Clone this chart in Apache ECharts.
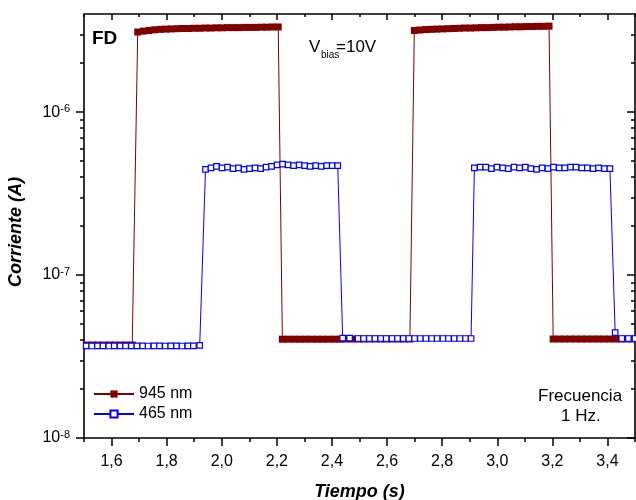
<!doctype html>
<html lang="es">
<head>
    <meta charset="utf-8">
    <title>Corriente vs Tiempo - FD</title>
    <script src="https://cdn.jsdelivr.net/npm/echarts@6.0.0/dist/echarts.min.js"></script>
    <style>
        html, body { margin: 0; padding: 0; background: #fff; }
        #chart { width: 636px; height: 500px; }
    </style>
</head>
<body>
    <div id="chart"></div>
    <script>
        // 945 nm: tiempo (s) y corriente (A)
        const tiempo945 = [
            1.510, 1.531, 1.551, 1.572, 1.593, 1.613, 1.634, 1.654, 1.675,
            1.695, 1.715, 1.736, 1.756, 1.777, 1.797, 1.817, 1.838, 1.858, 1.879, 1.899, 1.919, 1.940,
            1.960, 1.981, 2.001, 2.021, 2.042, 2.062, 2.083, 2.103, 2.123, 2.144, 2.164, 2.185, 2.205,
            2.220, 2.241, 2.262, 2.283, 2.304, 2.325, 2.346, 2.367, 2.388, 2.409, 2.430, 2.452, 2.473,
            2.494, 2.515, 2.536, 2.557, 2.578, 2.599, 2.620, 2.641, 2.662, 2.683,
            2.699, 2.719, 2.740, 2.760, 2.780, 2.801, 2.821, 2.842, 2.862, 2.882, 2.903, 2.923, 2.943,
            2.964, 2.984, 3.005, 3.025, 3.045, 3.066, 3.086, 3.106, 3.127, 3.147, 3.168, 3.188,
            3.203, 3.224, 3.244, 3.265, 3.285, 3.306, 3.326, 3.347, 3.367, 3.388, 3.408, 3.429, 3.449,
            3.470, 3.490
        ];
        const corriente945 = [
            3.72e-8, 3.72e-8, 3.72e-8, 3.72e-8, 3.72e-8, 3.72e-8, 3.72e-8, 3.72e-8, 3.72e-8,
            3.10e-6, 3.14e-6, 3.17e-6, 3.20e-6, 3.22e-6, 3.23e-6, 3.24e-6, 3.25e-6, 3.26e-6, 3.26e-6, 3.27e-6, 3.27e-6, 3.28e-6,
            3.28e-6, 3.29e-6, 3.29e-6, 3.30e-6, 3.30e-6, 3.30e-6, 3.31e-6, 3.31e-6, 3.31e-6, 3.32e-6, 3.32e-6, 3.33e-6, 3.33e-6,
            4.04e-8, 4.04e-8, 4.04e-8, 4.04e-8, 4.04e-8, 4.04e-8, 4.04e-8, 4.04e-8, 4.04e-8, 4.04e-8, 4.04e-8, 4.05e-8, 4.05e-8,
            4.05e-8, 4.05e-8, 4.05e-8, 4.05e-8, 4.05e-8, 4.05e-8, 4.05e-8, 4.05e-8, 4.05e-8, 4.05e-8,
            3.17e-6, 3.19e-6, 3.21e-6, 3.22e-6, 3.23e-6, 3.24e-6, 3.25e-6, 3.26e-6, 3.27e-6, 3.28e-6, 3.28e-6, 3.29e-6, 3.30e-6,
            3.30e-6, 3.31e-6, 3.32e-6, 3.32e-6, 3.33e-6, 3.34e-6, 3.34e-6, 3.35e-6, 3.35e-6, 3.36e-6, 3.36e-6, 3.37e-6,
            4.05e-8, 4.05e-8, 4.05e-8, 4.05e-8, 4.05e-8, 4.05e-8, 4.05e-8, 4.05e-8, 4.05e-8, 4.05e-8, 4.05e-8, 4.05e-8, 4.05e-8,
            4.05e-8, 4.05e-8
        ];

        // 465 nm: tiempo (s) y corriente (A)
        const tiempo465 = [
            1.508, 1.528, 1.549, 1.569, 1.590, 1.610, 1.631, 1.651, 1.672, 1.692, 1.713, 1.733, 1.754,
            1.774, 1.795, 1.815, 1.836, 1.856, 1.877, 1.897, 1.920,
            1.941, 1.961, 1.981, 2.001, 2.021, 2.041, 2.061, 2.081, 2.101, 2.121, 2.141, 2.161, 2.181,
            2.201, 2.221, 2.241, 2.261, 2.281, 2.301, 2.321, 2.341, 2.361, 2.381, 2.401, 2.421,
            2.439, 2.464, 2.495, 2.515, 2.536, 2.556, 2.577, 2.597, 2.618, 2.638, 2.659, 2.679, 2.700,
            2.721, 2.741, 2.762, 2.782, 2.803, 2.823, 2.844, 2.864, 2.885, 2.905,
            2.917, 2.938, 2.958, 2.979, 2.999, 3.020, 3.040, 3.061, 3.081, 3.102, 3.122, 3.143, 3.163,
            3.184, 3.204, 3.225, 3.245, 3.266, 3.286, 3.307, 3.327, 3.348, 3.368, 3.389, 3.409,
            3.428, 3.452, 3.476, 3.500
        ];
        const corriente465 = [
            3.68e-8, 3.67e-8, 3.68e-8, 3.68e-8, 3.67e-8, 3.68e-8, 3.68e-8, 3.67e-8, 3.68e-8, 3.68e-8, 3.68e-8, 3.67e-8, 3.68e-8,
            3.68e-8, 3.67e-8, 3.68e-8, 3.68e-8, 3.67e-8, 3.68e-8, 3.68e-8, 3.70e-8,
            4.45e-7, 4.55e-7, 4.65e-7, 4.55e-7, 4.60e-7, 4.50e-7, 4.55e-7, 4.45e-7, 4.50e-7, 4.55e-7, 4.50e-7, 4.60e-7, 4.65e-7,
            4.75e-7, 4.80e-7, 4.75e-7, 4.70e-7, 4.75e-7, 4.70e-7, 4.65e-7, 4.70e-7, 4.65e-7, 4.70e-7, 4.70e-7, 4.70e-7,
            4.10e-8, 4.10e-8, 4.08e-8, 4.08e-8, 4.08e-8, 4.08e-8, 4.08e-8, 4.08e-8, 4.08e-8, 4.08e-8, 4.08e-8, 4.08e-8, 4.08e-8,
            4.08e-8, 4.08e-8, 4.08e-8, 4.08e-8, 4.08e-8, 4.08e-8, 4.08e-8, 4.08e-8, 4.08e-8, 4.08e-8,
            4.55e-7, 4.60e-7, 4.60e-7, 4.50e-7, 4.60e-7, 4.55e-7, 4.50e-7, 4.60e-7, 4.55e-7, 4.60e-7, 4.50e-7, 4.45e-7, 4.55e-7,
            4.50e-7, 4.60e-7, 4.55e-7, 4.55e-7, 4.60e-7, 4.60e-7, 4.55e-7, 4.55e-7, 4.50e-7, 4.55e-7, 4.50e-7, 4.50e-7,
            4.43e-8, 4.08e-8, 4.08e-8, 4.08e-8
        ];

        // ticks
        const xMayores = [1.6, 1.8, 2.0, 2.2, 2.4, 2.6, 2.8, 3.0, 3.2, 3.4];
        const xMenores = [1.5, 1.7, 1.9, 2.1, 2.3, 2.5, 2.7, 2.9, 3.1, 3.3, 3.5];
        const yMayores = [1e-8, 1e-7, 1e-6];
        const yMenores = [
            2e-8, 3e-8, 4e-8, 5e-8, 6e-8, 7e-8, 8e-8, 9e-8,
            2e-7, 3e-7, 4e-7, 5e-7, 6e-7, 7e-7, 8e-7, 9e-7,
            2e-6, 3e-6
        ];

        const fuente = '"Liberation Sans", Arial, sans-serif';
        const negro = '#000';
        const chart = echarts.init(document.getElementById('chart'));

        function ejeX(pos, mayor, dentro, conNombre) {
            return {
                type: 'value', min: 1.5, max: 3.5, position: pos,
                axisLine: { show: mayor, onZero: false, lineStyle: { color: negro, width: 1.6 } },
                axisTick: {
                    show: true, inside: dentro,
                    customValues: mayor ? xMayores : xMenores,
                    length: mayor ? (dentro ? 6 : 8) : (dentro ? 3 : 4),
                    lineStyle: { color: negro, width: 1.5 }
                },
                axisLabel: conNombre ? {
                    show: true, customValues: xMayores, margin: 16,
                    fontSize: 16, color: negro, fontFamily: fuente,
                    formatter: v => v.toFixed(1).replace('.', ',')
                } : { show: false },
                splitLine: { show: false },
                name: conNombre ? 'Tiempo (s)' : '',
                nameLocation: 'middle', nameGap: 45,
                nameTextStyle: { fontSize: 18, fontWeight: 'bold', fontStyle: 'italic', color: negro, fontFamily: fuente }
            };
        }

        function ejeY(pos, mayor, dentro, conNombre) {
            return {
                type: 'log', logBase: 10, min: 1e-8, max: 4e-6, position: pos,
                axisLine: { show: mayor, onZero: false, lineStyle: { color: negro, width: 1.6 } },
                axisTick: {
                    show: true, inside: dentro,
                    customValues: mayor ? yMayores : yMenores,
                    length: mayor ? 8 : 4,
                    lineStyle: { color: negro, width: 1.5 }
                },
                axisLabel: conNombre ? {
                    show: true, customValues: yMayores, margin: 14,
                    formatter: v => '{b|10}{s|' + Math.round(Math.log10(v)) + '}',
                    rich: {
                        b: { fontSize: 16, color: negro, fontFamily: fuente },
                        s: { fontSize: 11, color: negro, fontFamily: fuente, padding: [0, 0, 6, 0] }
                    }
                } : { show: false },
                splitLine: { show: false },
                name: conNombre ? 'Corriente (A)' : '',
                nameLocation: 'middle', nameGap: 59,
                nameTextStyle: {
                    fontSize: 18, fontWeight: 'bold', fontStyle: 'italic', color: negro, fontFamily: fuente,
                    padding: [0, 12, 0, 0]
                }
            };
        }

        chart.setOption({
            animation: false,
            backgroundColor: '#fff',
            textStyle: { fontFamily: fuente },
            grid: { left: 84, right: 1, top: 14, bottom: 62, containLabel: false, outerBoundsMode: 'none' },
            xAxis: [
                ejeX('bottom', true, false, true),
                ejeX('bottom', false, false, false),
                ejeX('top', true, true, false),
                ejeX('top', false, true, false)
            ],
            yAxis: [
                ejeY('left', true, false, true),
                ejeY('left', false, false, false),
                ejeY('right', true, true, false),
                ejeY('right', false, true, false)
            ],
            legend: {
                orient: 'vertical', left: 93, top: 386, padding: 0,
                itemWidth: 40, itemHeight: 9, itemGap: 4,
                textStyle: { fontSize: 16, color: negro, fontFamily: fuente },
                data: ['945 nm', '465 nm']
            },
            series: [
                {
                    name: '945 nm', type: 'line',
                    data: tiempo945.map((t, i) => [t, corriente945[i]]),
                    symbol: 'rect', symbolSize: 7,
                    itemStyle: { color: '#800000' },
                    lineStyle: { color: '#800000', width: 1 }
                },
                {
                    name: '465 nm', type: 'line',
                    data: tiempo465.map((t, i) => [t, corriente465[i]]),
                    symbol: 'rect', symbolSize: 5.5,
                    itemStyle: { color: '#ffffff', borderColor: '#0000ff', borderWidth: 1.2 },
                    lineStyle: { color: '#0000ff', width: 1 }
                }
            ],
            graphic: [
                { type: 'text', left: 92, top: 29, style: { text: 'FD', fontSize: 19, fontWeight: 'bold', fill: negro, fontFamily: fuente } },
                { type: 'text', left: 309, top: 39, style: { text: 'V', fontSize: 17, fill: negro, fontFamily: fuente } },
                { type: 'text', left: 321, top: 50, style: { text: 'bias', fontSize: 10, fill: negro, fontFamily: fuente } },
                { type: 'text', left: 336, top: 39, style: { text: '=10V', fontSize: 17, fill: negro, fontFamily: fuente } },
                { type: 'text', left: 538, top: 388, style: { text: 'Frecuencia', fontSize: 17, fill: negro, fontFamily: fuente } },
                { type: 'text', left: 561, top: 408, style: { text: '1 Hz.', fontSize: 17, fill: negro, fontFamily: fuente } }
            ]
        });
    </script>
</body>
</html>
